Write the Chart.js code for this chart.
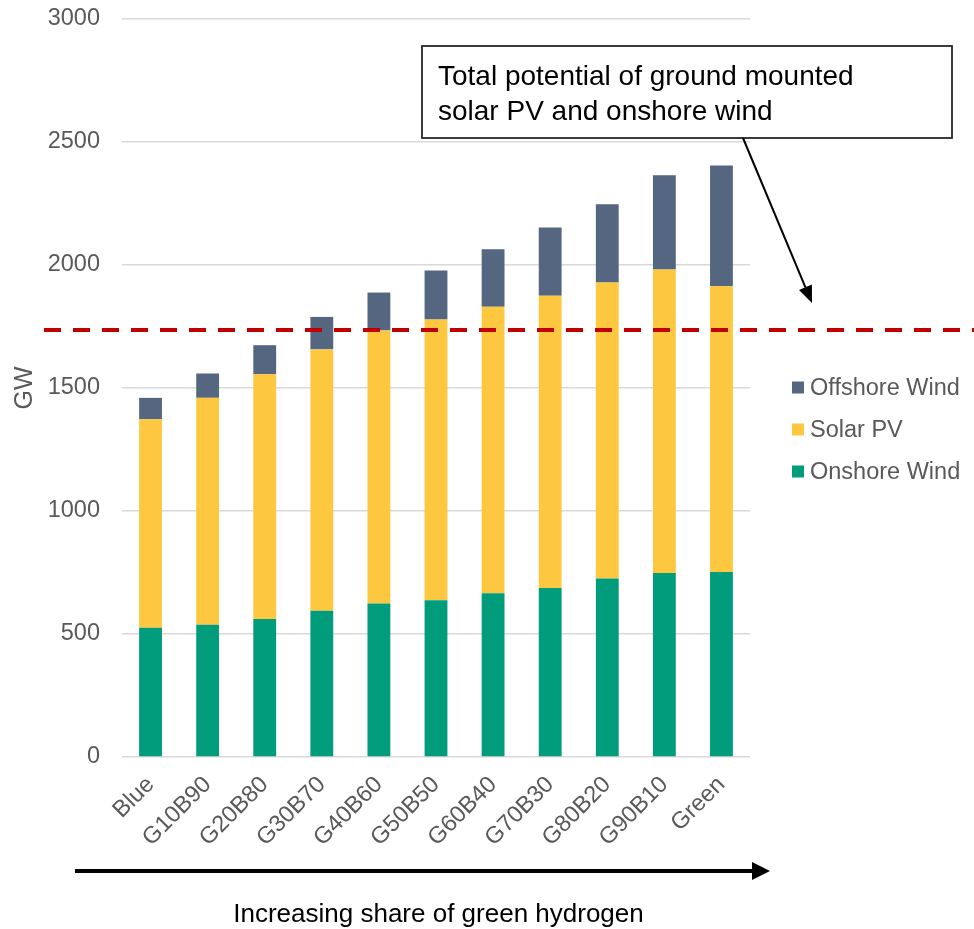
<!DOCTYPE html>
<html>
<head>
<meta charset="utf-8">
<title>Installed capacity by hydrogen mix</title>
<script src="https://cdn.jsdelivr.net/npm/chart.js@4/dist/chart.umd.min.js"></script>
<style>
  html, body { margin: 0; padding: 0; background: #ffffff; }
  #wrap { width: 974px; height: 929px; position: relative; }
</style>
</head>
<body>
<div id="wrap"><canvas id="chart" width="974" height="929"></canvas></div>
<script>
// Scenario categories (share of green vs blue hydrogen)
const categories = ['Blue', 'G10B90', 'G20B80', 'G30B70', 'G40B60', 'G50B50',
                    'G60B40', 'G70B30', 'G80B20', 'G90B10', 'Green'];

// Installed capacity per technology, GW
const onshoreWind  = [525, 538, 561, 595, 624, 637, 666, 687, 726, 748, 752];
const solarPV      = [848, 922, 995, 1062, 1110, 1141, 1164, 1188, 1203, 1234, 1162];
const offshoreWind = [87, 99, 118, 132, 154, 200, 234, 277, 318, 383, 490];

// Total potential of ground mounted solar PV and onshore wind, GW
const groundPotential = 1735;

// Axis ticks
const yTicks = [0, 500, 1000, 1500, 2000, 2500, 3000];

const FONT = '"Liberation Sans", Arial, Helvetica, sans-serif';
const GREY_TEXT = '#595959';

const colors = {
  onshore: '#009C7B',
  solar: '#FDC740',
  offshore: '#546680'
};

// Potential line, callout box, legend and x-axis arrow
const overlay = {
  id: 'overlay',
  afterDatasetsDraw(chart) {
    const ctx = chart.ctx;
    const y = chart.scales.y;
    const lineY = Math.round(y.getPixelForValue(groundPotential));

    ctx.save();
    // dashed potential line
    ctx.strokeStyle = '#C00000';
    ctx.lineWidth = 4;
    ctx.setLineDash([17, 12]);
    ctx.beginPath();
    ctx.moveTo(44, lineY);
    ctx.lineTo(chart.width, lineY);
    ctx.stroke();
    ctx.setLineDash([]);

    // callout box
    const bx = 422, by = 46, bw = 530, bh = 92;
    ctx.fillStyle = '#ffffff';
    ctx.fillRect(bx, by, bw, bh);
    ctx.strokeStyle = '#262626';
    ctx.lineWidth = 1.8;
    ctx.strokeRect(bx, by, bw, bh);
    ctx.fillStyle = '#000000';
    ctx.font = '28px ' + FONT;
    ctx.textAlign = 'left';
    ctx.textBaseline = 'alphabetic';
    ctx.fillText('Total potential of ground mounted', 438, 85);
    ctx.fillText('solar PV and onshore wind', 438, 120);

    // callout arrow pointing to the potential line
    drawArrow(ctx, 743, by + bh, 812, lineY - 27, 2, 17, 7);

    // arrow under the x axis
    drawArrow(ctx, 75, 871, 770, 871, 4, 18, 9);

    // x axis caption
    ctx.fillStyle = '#000000';
    ctx.font = '26px ' + FONT;
    ctx.textAlign = 'center';
    ctx.fillText('Increasing share of green hydrogen', 438.5, 922);

    // legend (top to bottom follows the stack order)
    const items = chart.data.datasets.slice().reverse();
    ctx.font = '23.5px ' + FONT;
    ctx.textAlign = 'left';
    ctx.textBaseline = 'middle';
    items.forEach((ds, i) => {
      const cy = 387.5 + i * 42;
      ctx.fillStyle = ds.backgroundColor;
      ctx.fillRect(792, cy - 6, 12, 12);
      ctx.fillStyle = GREY_TEXT;
      ctx.fillText(ds.label, 810, cy + 1);
    });
    ctx.restore();
  }
};

function drawArrow(ctx, x1, y1, x2, y2, width, headLen, headHalf) {
  const ang = Math.atan2(y2 - y1, x2 - x1);
  const bx = x2 - headLen * Math.cos(ang);
  const by = y2 - headLen * Math.sin(ang);
  ctx.strokeStyle = '#000000';
  ctx.fillStyle = '#000000';
  ctx.lineWidth = width;
  ctx.beginPath();
  ctx.moveTo(x1, y1);
  ctx.lineTo(bx, by);
  ctx.stroke();
  ctx.beginPath();
  ctx.moveTo(x2, y2);
  ctx.lineTo(bx + headHalf * Math.sin(ang), by - headHalf * Math.cos(ang));
  ctx.lineTo(bx - headHalf * Math.sin(ang), by + headHalf * Math.cos(ang));
  ctx.closePath();
  ctx.fill();
}

new Chart(document.getElementById('chart'), {
  type: 'bar',
  data: {
    labels: categories,
    datasets: [
      { label: 'Onshore Wind', data: onshoreWind, backgroundColor: colors.onshore },
      { label: 'Solar PV', data: solarPV, backgroundColor: colors.solar },
      { label: 'Offshore Wind', data: offshoreWind, backgroundColor: colors.offshore }
    ]
  },
  options: {
    responsive: false,
    animation: false,
    devicePixelRatio: 1,
    layout: { padding: { top: 19, right: 224, left: 0, bottom: 0 } },
    datasets: {
      bar: { categoryPercentage: 0.8, barPercentage: 0.5, borderWidth: 0 }
    },
    plugins: {
      legend: { display: false },
      tooltip: { enabled: false }
    },
    scales: {
      x: {
        stacked: true,
        grid: { display: false, drawTicks: false },
        border: { display: false },
        ticks: {
          autoSkip: false,
          minRotation: 45,
          maxRotation: 45,
          padding: 14,
          color: GREY_TEXT,
          font: { family: FONT, size: 23.5 }
        },
        afterFit(scale) {
          scale.height = 172;
          scale.paddingTop = 0;
          scale.paddingBottom = 0;
          scale.paddingLeft = 0;
          scale.paddingRight = 0;
        }
      },
      y: {
        stacked: true,
        min: 0,
        max: 3000,
        afterBuildTicks(scale) { scale.ticks = yTicks.map(v => ({ value: v })); },
        grid: { color: '#D9D9D9', lineWidth: 1.5, drawTicks: false },
        border: { display: false },
        ticks: {
          padding: 22,
          color: GREY_TEXT,
          font: { family: FONT, size: 23.5 },
          callback: (v) => String(v)
        },
        title: {
          display: true,
          text: 'GW',
          color: GREY_TEXT,
          font: { family: FONT, size: 25 },
          padding: { top: 10, bottom: 0 }
        },
        afterFit(scale) {
          scale.width = 122;
          scale.paddingTop = 0;
          scale.paddingBottom = 0;
        }
      }
    }
  },
  plugins: [overlay]
});
</script>
</body>
</html>
